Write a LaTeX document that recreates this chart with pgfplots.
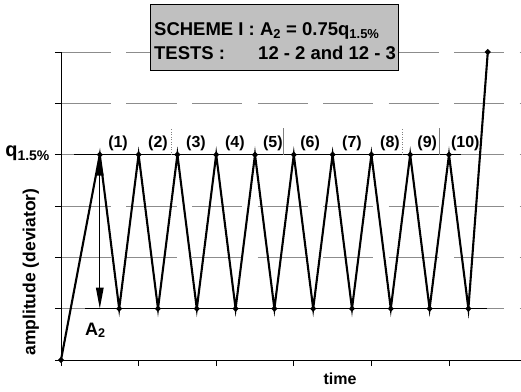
\documentclass[border=0pt]{standalone}
\usepackage{fontspec}
\setmainfont{Liberation Sans}
\usepackage{pgfplots}
\pgfplotsset{compat=1.18}
\usetikzlibrary{arrows.meta}
\definecolor{boxgray}{RGB}{192,192,192}
\definecolor{gridgray}{RGB}{140,140,140}
\newcommand{\fs}[1]{\fontsize{#1bp}{#1bp}\selectfont\bfseries}
\begin{document}
\begin{tikzpicture}
\path[use as bounding box] (-61bp,-32bp) rectangle (460bp,360bp);
\begin{axis}[
  at={(0,0)}, anchor=south west,
  scale only axis, width=460bp, height=308bp,
  xmin=0, xmax=5.928, ymin=0, ymax=6,
  axis x line*=bottom, axis y line*=left,
  x axis line style={-, line width=0.9bp},
  y axis line style={-, line width=0.9bp},
  xtick={0,1,2,3,4,5}, ytick={0,1,2,3,4,5,6},
  xticklabels={}, yticklabels={},
  tick align=outside, major tick length=6bp,
  tick style={black, line width=0.9bp},
  ymajorgrids,
  major grid style={gridgray, line width=0.7bp, dash pattern=on 50bp off 15.5bp},
  clip=false,
]
% horizontal reference lines
\addplot[black, line width=1.1bp] coordinates {(0.168,4) (5.155,4)};
\addplot[black, line width=1.1bp] coordinates {(0.31,1) (5.49,1)};
% cycle separators
\addplot[gray, line width=0.5bp, dotted] coordinates {(1.42,4) (1.42,4.52)};
\addplot[gray, line width=0.5bp] coordinates {(2.87,4) (2.87,4.52)};
\addplot[gray, line width=0.5bp, dotted] coordinates {(4.40,4) (4.40,4.52)};
\addplot[gray, line width=0.5bp] coordinates {(4.87,4) (4.87,4.52)};
% A2 arrow
\addplot[black, line width=1.4bp, {Triangle[length=21bp,width=7.5bp]}-{Triangle[length=21bp,width=7.5bp]}] coordinates {(0.5,4) (0.5,1)};
% loading path
\addplot[black, line width=2.1bp, mark=*, mark size=1.6bp] coordinates {
(0,0) (0.5,4) (0.75,1) (1,4) (1.25,1) (1.5,4) (1.75,1) (2,4) (2.25,1)
(2.5,4) (2.75,1) (3,4) (3.25,1) (3.5,4) (3.75,1) (4,4) (4.25,1)
(4.5,4) (4.75,1) (5,4) (5.25,1) (5.5,6)};
% cycle numbers
\node[font=\fs{16}] at (axis cs:0.735,4.23) {(1)};
\node[font=\fs{16}] at (axis cs:1.25,4.23) {(2)};
\node[font=\fs{16}] at (axis cs:1.74,4.23) {(3)};
\node[font=\fs{16}] at (axis cs:2.24,4.23) {(4)};
\node[font=\fs{16}] at (axis cs:2.73,4.23) {(5)};
\node[font=\fs{16}] at (axis cs:3.21,4.23) {(6)};
\node[font=\fs{16}] at (axis cs:3.75,4.23) {(7)};
\node[font=\fs{16}] at (axis cs:4.24,4.23) {(8)};
\node[font=\fs{16}] at (axis cs:4.72,4.23) {(9)};
\node[font=\fs{16}] at (axis cs:5.21,4.23) {(10)};
% title box
\draw[fill=boxgray, draw=black, line width=1bp] (axis cs:1.147,5.63) rectangle (axis cs:4.343,6.916);
\node[font=\fs{18.5}, anchor=base west, inner sep=0pt] at (axis cs:1.198,6.33) {SCHEME I : A\textsubscript{2} = 0.75q\textsubscript{1.5\%}};
\node[font=\fs{18.5}, anchor=base west, inner sep=0pt] at (axis cs:1.198,5.845) {TESTS :};
\node[font=\fs{18.5}, anchor=base west, inner sep=0pt] at (axis cs:2.539,5.845) {12 - 2 and 12 - 3};
% labels
\node[font=\fs{20}, anchor=east, inner sep=0pt] at (axis cs:-0.14,4.02) {q\textsubscript{1.5\%}};
\node[font=\fs{18}, anchor=base west, inner sep=0pt] at (axis cs:0.309,0.487) {A\textsubscript{2}};
\node[font=\fs{16}, anchor=base, inner sep=0pt] at (axis cs:3.595,-0.468) {time};
\node[font=\fs{17.5}, rotate=90, inner sep=0pt] at (axis cs:-0.387,1.714) {amplitude (deviator)};
\end{axis}
\end{tikzpicture}
\end{document}
